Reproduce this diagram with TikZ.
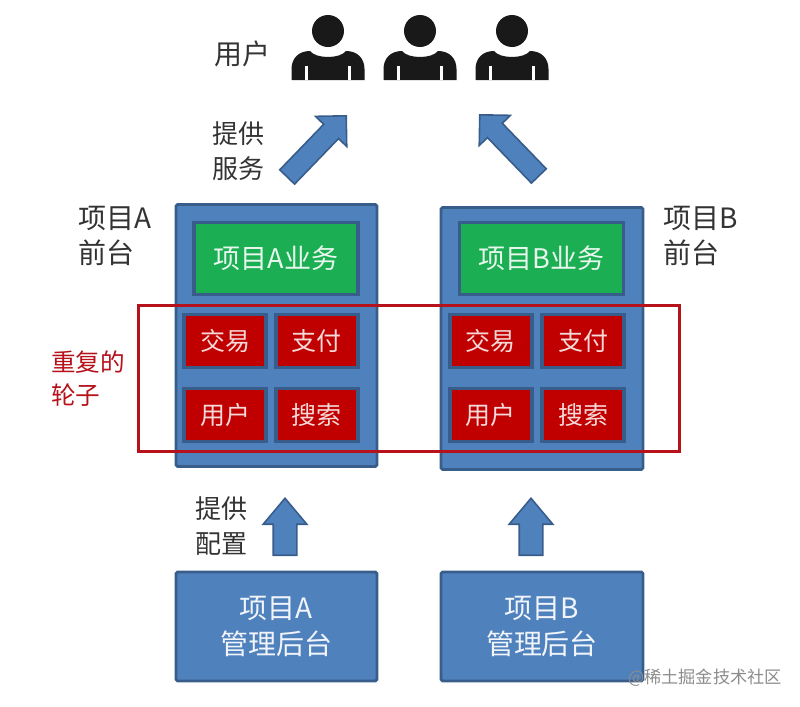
\documentclass[tikz,border=0pt]{standalone}
\usepackage{fontspec}
\setmainfont{Noto Sans CJK SC}
\usepackage{xcolor}
\usetikzlibrary{shapes.arrows}

\definecolor{boxblue}{HTML}{4F81BD}
\definecolor{edgeblue}{HTML}{385D8A}
\definecolor{bizgreen}{HTML}{1BAE52}
\definecolor{wheelred}{HTML}{C00000}
\definecolor{framered}{HTML}{B5121B}

\tikzset{
	bluebox/.style={draw=edgeblue, fill=boxblue, line width=1.4pt, rounded corners=0.8pt, inner sep=0pt, text=white!92!boxblue, align=center, font=\fontsize{14}{17.5}\selectfont},
	bizbox/.style={draw=edgeblue, fill=bizgreen, line width=1.6pt, inner sep=0pt, text=white!90!bizgreen, minimum width=82pt, minimum height=36pt, font=\fontsize{13.5}{18}\selectfont},
	wheelbox/.style={draw=edgeblue, fill=wheelred, line width=1.6pt, inner sep=0pt, text=white!85!wheelred, minimum width=41pt, minimum height=26.5pt, font=\fontsize{12.5}{16}\selectfont},
	bigarrow/.style={single arrow, draw=edgeblue, fill=boxblue, line width=0.8pt, inner xsep=0pt, anchor=tip},
	servarrow/.style={bigarrow, minimum height=42.5pt, minimum width=21pt, inner ysep=4.75pt, single arrow head extend=5.7pt},
	confarrow/.style={bigarrow, rotate=90, minimum height=28.5pt, minimum width=21pt, inner ysep=5.5pt, single arrow head extend=5pt, single arrow tip angle=80},
	caption/.style={align=left, inner sep=0pt, text=black!80, font=\fontsize{13}{17.5}\selectfont},
	bigcaption/.style={caption, font=\fontsize{14}{17.5}\selectfont}
}

\begin{document}
\begin{tikzpicture}[x=0.5pt, y=-0.5pt]
	\useasboundingbox (0,0) rectangle (800,707);

	% Users on top
	\foreach \px in {328,420,512} {
		\begin{scope}[shift={(\px,0)}]
			\fill[black!90] (0,31) circle (16);
			\fill[black!90] (-36.5,80) -- (-36.5,69) .. controls (-36.5,58) and (-29,51) .. (-18,51)
				.. controls (-12,59) and (12,59) .. (18,51)
				.. controls (29,51) and (36.5,58) .. (36.5,69) -- (36.5,80) -- cycle;
			\fill[white] (-23,66) rectangle (-20,80);
			\fill[white] (20,66) rectangle (23,80);
		\end{scope}
	}
	\node[bigcaption] (usercap) at (242,54) {用户};

	% Arrows towards the users
	\node[servarrow, rotate=46] (servA) at (347,115) {};
	\node[servarrow, rotate=134] (servB) at (479,114) {};
	\node[caption] (servcap) at (239,151) {提供\\服务};

	% Front ends
	\node[bluebox, minimum width=100.5pt, minimum height=131pt] (frontA) at (276.5,335.5) {};
	\node[bluebox, minimum width=101pt, minimum height=131pt] (frontB) at (542,338.5) {};
	\node[bigcaption] (frontcapA) at (115,236) {项目A\\前台};
	\node[bigcaption] (frontcapB) at (701,236) {项目B\\前台};

	% Business boxes
	\node[bizbox] (bizA) at (276,258.5) {项目A业务};
	\node[bizbox] (bizB) at (541.5,258.5) {项目B业务};

	% Repeated wheels
	\node[wheelbox] (tradeA) at (225,341) {交易};
	\node[wheelbox] (payA) at (317,341) {支付};
	\node[wheelbox] (userA) at (225,415) {用户};
	\node[wheelbox] (findA) at (317,415) {搜索};
	\node[wheelbox] (tradeB) at (491,341) {交易};
	\node[wheelbox] (payB) at (583,341) {支付};
	\node[wheelbox] (userB) at (491,415) {用户};
	\node[wheelbox] (findB) at (583,415) {搜索};

	% Red frame round the wheels
	\node[draw=framered, line width=1.3pt, inner sep=0pt, minimum width=270.5pt, minimum height=73pt] (wheels) at (409,378.5) {};
	\node[caption, text=framered, font=\fontsize{12.3}{16.5}\selectfont] (wheelcap) at (88,379) {重复的\\轮子};

	% Arrows from the admin boxes
	\node[confarrow] (confA) at (285,497) {};
	\node[confarrow] (confB) at (531,497) {};
	\node[caption] (confcap) at (221,526) {提供\\配置};

	% Admin boxes
	\node[bluebox, minimum width=100.5pt, minimum height=54.5pt] (adminA) at (276.5,626.5) {项目A\\管理后台};
	\node[bluebox, minimum width=101pt, minimum height=54.5pt] (adminB) at (542,626.5) {项目B\\管理后台};

	% Watermark
	\node[inner sep=0pt, text=black!45, font=\fontsize{8.6}{10}\selectfont] (mark) at (705,678) {@稀土掘金技术社区};
\end{tikzpicture}
\end{document}
